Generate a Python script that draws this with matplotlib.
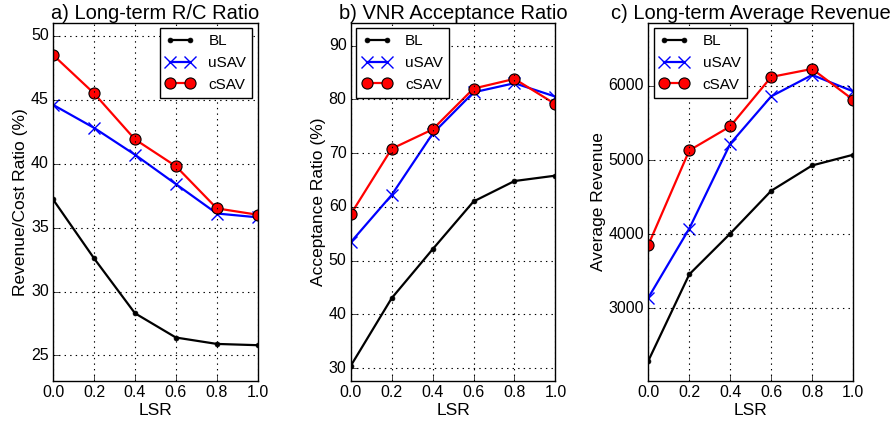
import matplotlib
matplotlib.use("Agg")
import matplotlib.pyplot as plt

plt.style.use('classic')
plt.rcParams['font.family'] = ['Liberation Sans', 'DejaVu Sans']

lsr = [0.0, 0.2, 0.4, 0.6, 0.8, 1.0]

rc_bl = [37.2, 32.6, 28.3, 26.4, 25.9, 25.8]
rc_usav = [44.6, 42.8, 40.7, 38.4, 36.1, 35.8]
rc_csav = [48.5, 45.5, 41.9, 39.8, 36.5, 36.0]

ar_bl = [30.4, 43.0, 52.1, 61.0, 64.8, 65.8]
ar_usav = [53.4, 62.2, 73.6, 81.3, 83.0, 80.5]
ar_csav = [58.6, 70.8, 74.4, 82.0, 83.8, 79.1]

rev_bl = [2293, 3459, 4009, 4586, 4928, 5072]
rev_usav = [3144, 4077, 5221, 5860, 6149, 5928]
rev_csav = [3856, 5131, 5455, 6122, 6230, 5815]

panels = [
    ("a) Long-term R/C Ratio", "Revenue/Cost Ratio (%)", rc_bl, rc_usav, rc_csav,
     (23.0, 51.0), [25, 30, 35, 40, 45, 50], 'upper right'),
    ("b) VNR Acceptance Ratio", "Acceptance Ratio (%)", ar_bl, ar_usav, ar_csav,
     (27.6, 94.2), [30, 40, 50, 60, 70, 80, 90], 'upper left'),
    ("c) Long-term Average Revenue", "Average Revenue", rev_bl, rev_usav, rev_csav,
     (2020, 6850), [3000, 4000, 5000, 6000], 'upper left'),
]

fig = plt.figure(figsize=(8.96, 4.24), dpi=100, facecolor='white')
lefts = [0.0592, 0.3914, 0.7236]
for left, (title, ylabel, bl, us, cs, ylim, yt, loc) in zip(lefts, panels):
    ax = fig.add_axes([left, 0.1014, 0.2285, 0.8444])
    ax.plot(lsr, bl, color='black', marker='.', markersize=7, linewidth=1.6, label='BL')
    ax.plot(lsr, us, color='blue', marker='x', markersize=8, markeredgewidth=1.0,
            markeredgecolor='blue', linewidth=1.6, label='uSAV')
    ax.plot(lsr, cs, color='red', marker='o', markersize=8, markerfacecolor='red',
            markeredgecolor='black', markeredgewidth=0.8, linewidth=1.6, label='cSAV')
    ax.set_xlim(0.0, 1.0)
    ax.set_ylim(*ylim)
    ax.set_xticks(lsr)
    ax.set_xticklabels(['0.0', '0.2', '0.4', '0.6', '0.8', '1.0'])
    ax.set_yticks(yt)
    ax.tick_params(labelsize=11.5, direction='in', top=False, right=False, pad=3)
    ax.grid(True, linestyle=':', color='black', linewidth=0.8)
    ax.set_title(title, fontsize=14.5, pad=3)
    ax.set_xlabel("LSR", fontsize=12.5, labelpad=2)
    ax.set_ylabel(ylabel, fontsize=12.5, labelpad=2)
    ax.legend(loc=loc, fontsize=11, numpoints=2, fancybox=False, frameon=True,
              borderaxespad=0.35, handlelength=1.9, handletextpad=0.9)

fig.savefig("out.png", dpi=100, facecolor='white')
